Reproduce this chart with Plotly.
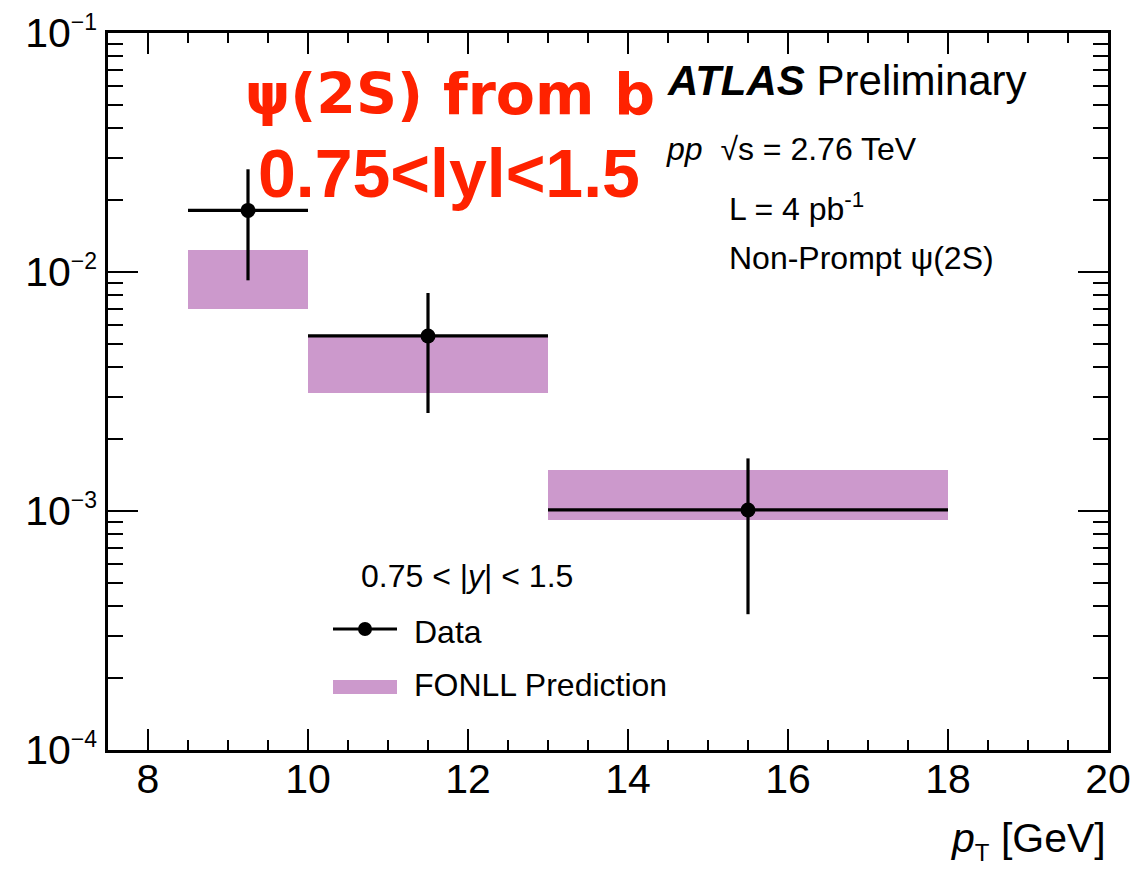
import plotly.graph_objects as go

# ---- data ----
bin_low = [8.5, 10.0, 13.0]
bin_high = [10.0, 13.0, 18.0]
data_x = [9.25, 11.5, 15.5]
data_y = [0.0181, 0.0054, 0.00101]
data_up = [0.0269, 0.00817, 0.00166]
data_down = [0.00923, 0.00257, 0.00037]
fonll_low = [0.00697, 0.00312, 0.000914]
fonll_high = [0.01236, 0.0054, 0.00148]

y_tickvals = [1e-4, 1e-3, 1e-2, 1e-1]
y_ticktext = ["10<sup><span style='font-size:23px'>\u22124</span></sup>",
              "10<sup><span style='font-size:23px'>\u22123</span></sup>",
              "10<sup><span style='font-size:23px'>\u22122</span></sup>",
              "10<sup><span style='font-size:23px'>\u22121</span></sup>"]
x_tickvals = [8, 10, 12, 14, 16, 18, 20]

FONT = "Liberation Sans"
PURPLE = "#CC99CC"
RED = "#FF2200"

centers = [(a + b) / 2 for a, b in zip(bin_low, bin_high)]
widths = [b - a for a, b in zip(bin_low, bin_high)]

fig = go.Figure()
fig.add_trace(go.Bar(
    x=centers, y=[h - l for h, l in zip(fonll_high, fonll_low)], base=fonll_low,
    width=widths, marker=dict(color=PURPLE, line=dict(width=0)), showlegend=False,
))
fig.add_trace(go.Scatter(
    x=data_x, y=data_y, mode="markers",
    marker=dict(color="black", size=15),
    error_x=dict(type="data", symmetric=False,
                 array=[h - x for h, x in zip(bin_high, data_x)],
                 arrayminus=[x - l for l, x in zip(bin_low, data_x)],
                 thickness=3.2, width=0, color="black"),
    error_y=dict(type="data", symmetric=False,
                 array=[u - y for u, y in zip(data_up, data_y)],
                 arrayminus=[y - d for d, y in zip(data_down, data_y)],
                 thickness=3.2, width=0, color="black"),
    showlegend=False,
))

W, H = 1135, 873
ML, MR, MT, MB = 108, 27, 33, 123
PW, PH = W - ML - MR, H - MT - MB


def px(xp):
    return (xp - ML) / PW


def py(yp):
    return (H - MB - yp) / PH


ann = []


def add_text(text, x, y, size, family=FONT, color="black", xanchor="left"):
    ann.append(dict(text=text, xref="paper", yref="paper", x=px(x), y=py(y),
                    xanchor=xanchor, yanchor="middle", showarrow=False,
                    font=dict(family=family, size=size, color=color)))


add_text("<b>\u03c8(2S) from b</b>", 243, 94, 57, family="DejaVu Sans", color=RED)
add_text("<b>0.75&lt;lyl&lt;1.5</b>", 256, 173, 68, color=RED)
add_text("<b><i>ATLAS</i></b> Preliminary", 665, 81, 42)
add_text("<i>pp</i>  \u221as = 2.76 TeV", 664, 149, 32)
add_text("L = 4 pb<sup>-1</sup>", 727, 207, 32)
add_text("Non-Prompt \u03c8(2S)", 727, 258, 32)
add_text("0.75 &lt; |<i>y</i>| &lt; 1.5", 359, 576, 32)
add_text("Data", 412, 632, 32)
add_text("FONLL Prediction", 412, 685, 32)
add_text("<i>p</i><sub><span style='font-size:24px'>T</span></sub> [GeV]", W - MR, 840, 41,
         xanchor="right")

shapes = [
    dict(type="line", xref="paper", yref="paper", x0=px(333), x1=px(397), y0=py(629), y1=py(629),
         line=dict(color="black", width=3)),
    dict(type="circle", xref="paper", yref="paper", x0=px(358), x1=px(372), y0=py(622), y1=py(636),
         fillcolor="black", line=dict(color="black", width=0)),
    dict(type="rect", xref="paper", yref="paper", x0=px(333), x1=px(397), y0=py(680), y1=py(694),
         fillcolor=PURPLE, line=dict(width=0)),
]

fig.update_layout(
    width=W, height=H,
    margin=dict(l=ML, r=MR, t=MT, b=MB, pad=0, autoexpand=False),
    paper_bgcolor="white", plot_bgcolor="white",
    font=dict(family=FONT, color="black"),
    showlegend=False, bargap=0,
    annotations=ann, shapes=shapes,
    xaxis=dict(range=[7.5, 20], tickmode="array", tickvals=x_tickvals, automargin=False,
               ticks="inside", ticklen=21, tickwidth=1.5, tickcolor="black",
               showline=True, linewidth=2.5, linecolor="black", mirror="allticks",
               showgrid=False, zeroline=False, ticklabelstandoff=-9,
               tickfont=dict(family=FONT, size=41),
               minor=dict(dtick=0.5, ticks="inside", ticklen=10, tickwidth=1.5,
                          tickcolor="black", showgrid=False)),
    yaxis=dict(type="log", range=[-4, -1], tickmode="array", tickvals=y_tickvals,
               ticktext=y_ticktext, automargin=False,
               ticks="inside", ticklen=30, tickwidth=1.5, tickcolor="black",
               showline=True, linewidth=2.5, linecolor="black", mirror="allticks",
               showgrid=False, zeroline=False,
               tickfont=dict(family=FONT, size=41),
               minor=dict(dtick="D1", ticks="inside", ticklen=15, tickwidth=1.5,
                          tickcolor="black", showgrid=False)),
)

fig.write_html("out.html", config={"displayModeBar": False},
               post_script="document.body.style.margin='0px';document.body.style.overflow='hidden';")
